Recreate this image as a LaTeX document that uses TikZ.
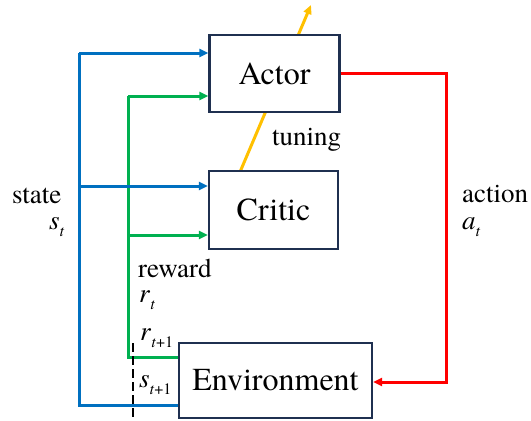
\documentclass[tikz,border=0pt]{standalone}
\usepackage{fontspec}
\setmainfont{texgyretermes}[Extension=.otf,UprightFont=*-regular,ItalicFont=*-italic,BoldFont=*-bold]
\usetikzlibrary{arrows.meta}
\definecolor{boxc}{HTML}{1F3050}
\definecolor{bluec}{HTML}{0070C0}
\definecolor{greenc}{HTML}{00B050}
\definecolor{redc}{HTML}{FF0000}
\definecolor{yelc}{HTML}{FFC000}
\newcommand\mysub[1]{\raisebox{-0.28em}{\fontsize{16}{16}\selectfont #1}}
\begin{document}
\begin{tikzpicture}[x=1pt,y=-1pt,
  blockbox/.style={draw=boxc,line width=2.4pt,fill=white,inner sep=0pt,font=\fontsize{32}{36}\selectfont},
  conn/.style={line width=3pt,-{Triangle[length=9pt,width=8pt]}},
  plain/.style={line width=3pt},
  lbl/.style={anchor=base west,inner sep=0pt,font=\fontsize{27}{30}\selectfont}]
\useasboundingbox (0,0) rectangle (531,421);
% yellow tuning line (behind boxes)
\coordinate (ytip) at (311,5);
\coordinate (ybase) at (240,172);
\draw[conn,yelc] (ybase) -- (ytip);
% boxes
\node[blockbox,minimum width=130pt,minimum height=77pt] (actor) at (274.5,73.5) {Actor};
\node[blockbox,minimum width=129pt,minimum height=78pt] (critic) at (273.5,210) {Critic};
\node[blockbox,minimum width=193pt,minimum height=75pt] (env) at (275.5,380.5) {Environment};
% blue state lines
\coordinate (bb) at (79,405);
\coordinate (bt) at (79,53);
\coordinate (bc) at (79,186);
\draw[plain,bluec] (bb -| env.west) -- (bb) -- (bt);
\draw[conn,bluec] (bt) -- (bt -| actor.west);
% green reward lines
\coordinate (gb) at (128,357);
\coordinate (gt) at (128,96);
\coordinate (gc) at (128,235);
\draw[plain,greenc] (gb -| env.west) -- (gb) -- (gt);
\draw[conn,greenc] (gt) -- (gt -| actor.west);
\draw[conn,greenc] (gc) -- (gc -| critic.west);
\draw[conn,bluec] (bc) -- (bc -| critic.west);
% red action line
\coordinate (rb) at (446,382);
\draw[conn,redc] (actor.east) -| (rb) -- (rb -| env.east);
% dashed cut
\coordinate (d1) at (133,343);
\coordinate (d2) at (133,421);
\draw[line width=2.6pt,dash pattern=on 9pt off 4pt] (d1) -- (d2);
% labels
\node[lbl] (state) at (12,203) {state};
\node[lbl] (st) at (49,229) {\textit{s}\mysub{\textit{t}}};
\node[lbl] (reward) at (138,277) {reward};
\node[lbl] (rt) at (139,302) {\textit{r}\mysub{\textit{t}}};
\node[lbl] (rt1) at (140,340) {\textit{r}\mysub{\textit{t}+1}};
\node[lbl] (st1) at (139,387) {\textit{s}\mysub{\textit{t}+1}};
\node[lbl] (tuning) at (272,145) {tuning};
\node[lbl] (action) at (462,202) {action};
\node[lbl] (at) at (462,229) {\textit{a}\mysub{\textit{t}}};
\end{tikzpicture}
\end{document}
